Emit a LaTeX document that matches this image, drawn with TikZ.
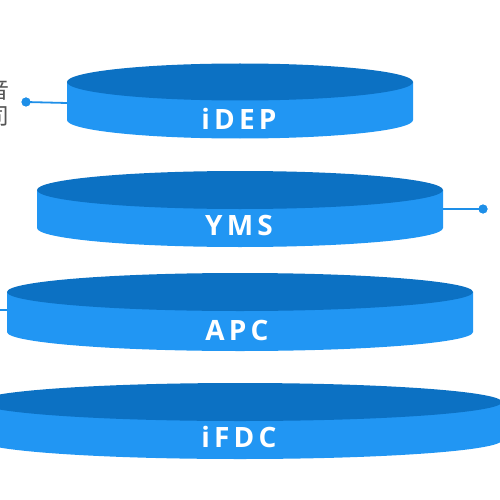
\documentclass[tikz,border=0pt]{standalone}
\usepackage{fontspec}
\setmainfont{Open Sans}
\newfontfamily\labfont[LetterSpace=15]{Open Sans}
\newfontfamily\cjk{Noto Sans CJK SC}
\definecolor{topblue}{HTML}{0C71C3}
\definecolor{sideblue}{HTML}{2196F3}
\definecolor{linkblue}{HTML}{1E8FE8}
\definecolor{txtgray}{HTML}{555555}
\newcommand\discdraw[5]{%
  \fill[sideblue] (#1-#3,#2) -- (#1-#3,#2+#5)
    arc[start angle=180,end angle=360,x radius=#3pt,y radius=#4pt]
    -- (#1+#3,#2) -- cycle;
  \fill[topblue] (#1,#2) ellipse [x radius=#3pt, y radius=#4pt];
}
\tikzset{
  disclabel/.style={text=white, font=\labfont\bfseries\fontsize{28}{28}\selectfont, inner sep=0pt},
  link/.style={draw=linkblue, line width=1.8pt},
  dotnode/.style={circle, fill=linkblue, minimum size=9pt, inner sep=0pt},
  sidetext/.style={text=txtgray, font=\cjk\fontsize{23}{23}\selectfont, inner sep=0pt, anchor=east}
}
\begin{document}
\begin{tikzpicture}[x=1pt,y=-1pt]
\useasboundingbox (0,0) rectangle (500,500);
\clip (0,0) rectangle (500,500);
% side texts (cut off at left edge, as in the reference)
\node[sidetext] (t1) at (10,90) {音};
\node[sidetext] (t2) at (10,116) {司};
% discs
\discdraw{240}{82}{173}{18.5}{38}
\discdraw{240}{190}{203}{19}{38}
\discdraw{240}{292}{233}{19}{40}
\discdraw{240}{402}{262}{19}{38}
% labels
\node[disclabel] (idep) at (239,119) {iDEP};
\node[disclabel] (yms) at (239,225) {YMS};
\node[disclabel] (apc) at (237,330) {APC};
\node[disclabel] (ifdc) at (239,437) {iFDC};
% connectors
\coordinate (idepW) at (67,103);
\node[dotnode] (d1) at (26,102) {};
\draw[link] (idepW) -- (d1.center);
\node[dotnode] at (d1) {};
\coordinate (ymsE) at (443,209);
\node[dotnode] (d2) at (483,209) {};
\draw[link] (ymsE) -- (d2.center);
\node[dotnode] at (d2) {};
\coordinate (apcW) at (7,310);
\coordinate (apcEnd) at (-6,310);
\draw[link] (apcW) -- (apcEnd);
\end{tikzpicture}
\end{document}
